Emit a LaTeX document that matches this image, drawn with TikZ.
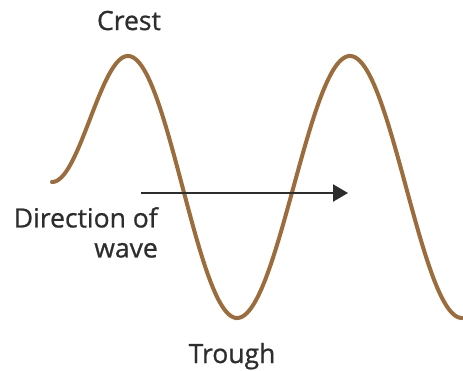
\documentclass[tikz,border=0pt]{standalone}
\usepackage{fontspec}
\setmainfont{Open Sans}[FakeBold=0.8]
\usetikzlibrary{arrows.meta}
\definecolor{wavebrown}{RGB}{155,108,60}
\definecolor{inkgray}{RGB}{45,45,45}
\tikzset{
  wavestroke/.style={draw=wavebrown, line width=4pt, line cap=round},
  label/.style={text=inkgray, font=\fontsize{26.5}{30}\selectfont, inner sep=0pt},
  dirarrow/.style={draw=inkgray, line width=2.2pt, -{Triangle[length=15pt,width=17pt]}}
}
\begin{document}
\begin{tikzpicture}[x=1pt,y=-1pt]
\useasboundingbox (0,0) rectangle (463,370);
% wave
\draw[wavestroke]
  plot[domain=52:128, samples=50, smooth] (\x, {182-63*(1-cos((\x-52)/76*180))})
  -- plot[domain=128:237, samples=60, smooth] (\x, {56+131*(1-cos((\x-128)/109*180))})
  -- plot[domain=237:350, samples=60, smooth] (\x, {318-131*(1-cos((\x-237)/113*180))})
  -- plot[domain=350:462, samples=60, smooth] (\x, {56+131*(1-cos((\x-350)/112*180))});
% labels
\node[label, anchor=base] (crest) at (129,30) {Crest};
\node[label, anchor=base] (trough) at (232,363) {Trough};
\node[label, anchor=north east, align=right] (dir) at (158,207) {Direction of\\wave};
% arrow
\coordinate (arrstart) at (141,193);
\coordinate (arrend) at (348,193);
\draw[dirarrow] (arrstart) -- (arrend);
\end{tikzpicture}
\end{document}
